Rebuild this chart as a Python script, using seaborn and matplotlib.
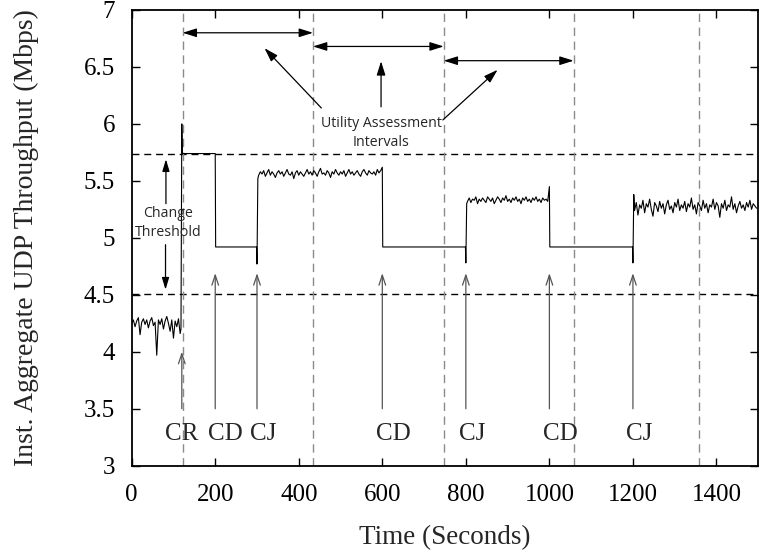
import numpy as np
import pandas as pd
import matplotlib
matplotlib.use("Agg")
import matplotlib.pyplot as plt
import seaborn as sns

# ---------------- data ----------------
# noisy segment A: 0..116 s, sampled every 4 s
seg_a_start = 0
seg_a = [4.25, 4.28, 4.22, 4.27, 4.30, 4.15, 4.26, 4.29, 4.24, 4.28,
         4.21, 4.27, 4.30, 4.23, 4.26, 3.97, 4.28, 4.24, 4.29, 4.20,
         4.27, 4.31, 4.25, 4.18, 4.28, 4.12, 4.27, 4.22, 4.29, 4.16]
# step transitions between noisy segments (time, Mbps)
trans_1_t = [118, 120, 121, 200, 201, 299, 300, 302]
trans_1_v = [4.20, 6.00, 5.74, 5.74, 4.92, 4.92, 4.77, 5.52]
seg_b_start = 304
seg_b = [5.55, 5.58, 5.56, 5.59, 5.54, 5.57, 5.60, 5.55, 5.58, 5.56,
         5.53, 5.57, 5.59, 5.56, 5.58, 5.54, 5.57, 5.60, 5.56, 5.55,
         5.58, 5.52, 5.57, 5.59, 5.55, 5.58, 5.56, 5.54, 5.57, 5.60,
         5.56, 5.58, 5.55, 5.59, 5.57, 5.54, 5.58, 5.61, 5.56, 5.57,
         5.55, 5.59, 5.57, 5.53, 5.58, 5.56, 5.60, 5.57, 5.55, 5.58,
         5.56, 5.59, 5.54, 5.57, 5.60, 5.56, 5.58, 5.55, 5.57, 5.59,
         5.56, 5.54, 5.58, 5.60, 5.57, 5.55, 5.59, 5.57, 5.56, 5.58,
         5.55, 5.60, 5.57, 5.59]
trans_2_t = [600, 601, 799, 800, 802]
trans_2_v = [5.62, 4.92, 4.92, 4.78, 5.30]
seg_c_start = 804
seg_c = [5.32, 5.35, 5.31, 5.34, 5.33, 5.36, 5.30, 5.34, 5.32, 5.35,
         5.33, 5.31, 5.36, 5.34, 5.32, 5.35, 5.30, 5.33, 5.36, 5.34,
         5.31, 5.35, 5.33, 5.37, 5.32, 5.34, 5.31, 5.35, 5.33, 5.36,
         5.32, 5.34, 5.30, 5.35, 5.33, 5.36, 5.32, 5.34, 5.31, 5.35,
         5.33, 5.36, 5.32, 5.34, 5.31, 5.35, 5.33, 5.34, 5.32]
trans_3_t = [1000, 1001, 1199, 1200, 1202]
trans_3_v = [5.45, 4.92, 4.92, 4.78, 5.38]
seg_d_start = 1204
seg_d = [5.24, 5.31, 5.20, 5.29, 5.26, 5.33, 5.22, 5.30, 5.27, 5.34,
         5.25, 5.19, 5.31, 5.28, 5.23, 5.32, 5.26, 5.30, 5.21, 5.29,
         5.33, 5.25, 5.28, 5.22, 5.31, 5.27, 5.34, 5.24, 5.29, 5.26,
         5.32, 5.23, 5.30, 5.27, 5.35, 5.25, 5.29, 5.21, 5.31, 5.28,
         5.24, 5.33, 5.26, 5.30, 5.22, 5.29, 5.27, 5.34, 5.25, 5.31,
         5.28, 5.18, 5.30, 5.26, 5.33, 5.24, 5.29, 5.27, 5.36, 5.25,
         5.30, 5.22, 5.28, 5.32, 5.26, 5.29, 5.24, 5.31, 5.27, 5.33,
         5.25, 5.30, 5.28, 5.26]
sample_step = 4

thresholds = [5.74, 4.505]
interval_bounds = [122, 434, 747, 1058, 1358]
interval_arrow_y = [6.80, 6.68, 6.555]

event_labels = ["CR", "CD", "CJ", "CD", "CJ", "CD", "CJ"]
event_times = [120, 200, 300, 600, 800, 1000, 1200]
event_label_x = [119, 224, 314, 626, 815, 1026, 1214]
event_arrow_top = [4.0, 4.69, 4.69, 4.69, 4.69, 4.69, 4.69]
event_arrow_base = 3.5
event_label_y = 3.28

x_ticks = [0, 200, 400, 600, 800, 1000, 1200, 1400]
y_ticks = [3, 3.5, 4, 4.5, 5, 5.5, 6, 6.5, 7]
y_tick_labels = ["3", "3.5", "4", "4.5", "5", "5.5", "6", "6.5", "7"]

# ---------------- assemble series ----------------
def seg_times(start, vals):
    return list(start + sample_step * np.arange(len(vals)))

t_all = (seg_times(seg_a_start, seg_a) + trans_1_t + seg_times(seg_b_start, seg_b)
         + trans_2_t + seg_times(seg_c_start, seg_c) + trans_3_t
         + seg_times(seg_d_start, seg_d))
v_all = seg_a + trans_1_v + seg_b + trans_2_v + seg_c + trans_3_v + seg_d
df = pd.DataFrame({"time": t_all, "mbps": v_all})

# ---------------- figure ----------------
sns.set_theme(style="white")
plt.rcParams["font.family"] = ["Liberation Serif", "DejaVu Serif"]
fig = plt.figure(figsize=(7.59, 5.52), dpi=100)
ax = fig.add_axes([0.1735, 0.1563, 0.8255, 0.8256])

sns.lineplot(data=df, x="time", y="mbps", ax=ax, color="black", lw=0.8,
             sort=False, estimator=None)

for yv in thresholds:
    ax.axhline(yv, color="black", lw=1.0, ls=(0, (5, 3.5)), zorder=1)
for xv in interval_bounds:
    ax.axvline(xv, color="#8a8a8a", lw=1.0, ls=(0, (6, 4)), zorder=1)

# interval double arrows
for i in range(3):
    ax.annotate("", xy=(interval_bounds[i + 1], interval_arrow_y[i]),
                xytext=(interval_bounds[i], interval_arrow_y[i]),
                arrowprops=dict(arrowstyle="<|-|>,head_length=0.7,head_width=0.22",
                                color="black", lw=0.9, shrinkA=0, shrinkB=0))

sans = ["Open Sans", "DejaVu Sans"]
ax.text(598, 5.92, "Utility Assessment\nIntervals", ha="center", va="center",
        fontsize=10.2, family=sans, linespacing=1.35)
for tail, tip in [((454, 6.14), (318, 6.665)),
                  ((597, 6.15), (597, 6.55)),
                  ((745, 6.035), (876, 6.475))]:
    ax.annotate("", xy=tip, xytext=tail,
                arrowprops=dict(arrowstyle="-|>,head_length=0.7,head_width=0.22",
                                color="black", lw=0.9, shrinkA=0, shrinkB=0))

ax.text(87, 5.13, "Change\nThreshold", ha="center", va="center",
        fontsize=10.2, family=sans, linespacing=1.35)
ax.annotate("", xy=(82, 5.69), xytext=(82, 5.30),
            arrowprops=dict(arrowstyle="-|>,head_length=0.6,head_width=0.18",
                            color="black", lw=0.9, shrinkA=0, shrinkB=0))
ax.annotate("", xy=(81, 4.545), xytext=(81, 4.94),
            arrowprops=dict(arrowstyle="-|>,head_length=0.6,head_width=0.18",
                            color="black", lw=0.9, shrinkA=0, shrinkB=0))

for lab, t, lx, top in zip(event_labels, event_times, event_label_x, event_arrow_top):
    ax.annotate("", xy=(t, top), xytext=(t, event_arrow_base),
                arrowprops=dict(arrowstyle="->,head_length=0.6,head_width=0.2",
                                color="#555555", lw=0.9, shrinkA=0, shrinkB=0))
    ax.text(lx, event_label_y, lab, ha="center", va="center", fontsize=18)

ax.set_xlim(0, 1500)
ax.set_ylim(3, 7)
ax.set_xticks(x_ticks)
ax.set_yticks(y_ticks)
ax.set_yticklabels(y_tick_labels)
ax.tick_params(direction="in", length=6, width=1.0, labelsize=18, colors="black",
               top=True, right=True, bottom=True, left=True)
ax.tick_params(axis="y", pad=12)
ax.tick_params(axis="x", pad=13)
for s in ax.spines.values():
    s.set_color("black")
    s.set_linewidth(1.3)
ax.set_xlabel("Time (Seconds)", fontsize=19.5, labelpad=14)
ax.set_ylabel("Inst. Aggregate UDP Throughput (Mbps)", fontsize=20, labelpad=32)

fig.savefig("out.png", dpi=100)
